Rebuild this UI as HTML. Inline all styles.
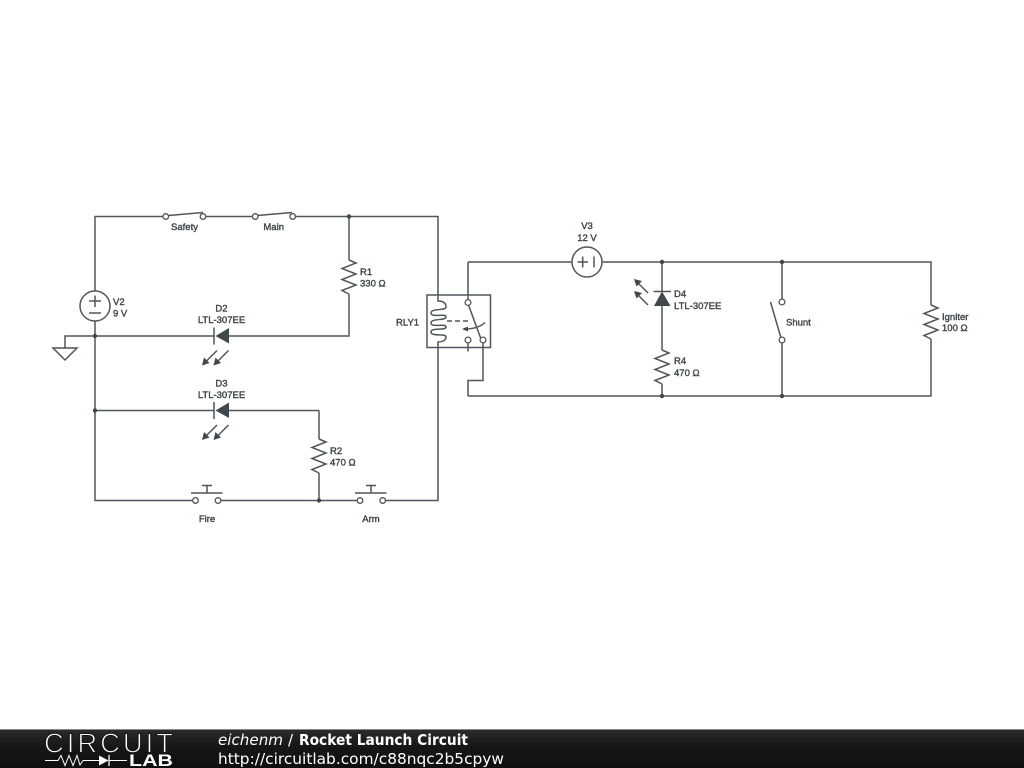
<!DOCTYPE html>
<html><head><meta charset="utf-8"><style>
html,body{margin:0;padding:0;background:#fff;width:1024px;height:768px;overflow:hidden}
svg{display:block}
.w{fill:none;stroke:#4f575b;stroke-width:1.5}
.c{fill:#fff;stroke:#4f575b;stroke-width:1.3}
.k{fill:#3f484c}
.t{font:9.5px "Liberation Sans",sans-serif;fill:#40484c;stroke:#40484c;stroke-width:.4}
.f{font-family:"DejaVu Sans",sans-serif;fill:#fff;font-size:15px}
</style></head><body>
<svg width="1024" height="768" viewBox="0 0 1024 768" xmlns="http://www.w3.org/2000/svg">
<defs>
<linearGradient id="g" x1="0" y1="0" x2="0" y2="1"><stop offset="0" stop-color="#2c2c2c"/><stop offset=".45" stop-color="#171717"/><stop offset="1" stop-color="#0e0e0e"/></linearGradient>
</defs>
<rect width="1024" height="768" fill="#fff"/>
<!-- left wires -->
<path class="w" d="M95 291V216.500H163M206 216.500H252M295 216.500H438V295M95 321V500.500H192.500M221 500.500H357M385.500 500.500H438V347"/>
<path class="w" d="M349 216.500V260M349 294V336H229M214 336H65V348M319 410.500H229M214 410.500H95M319 410.500V439M319 473V500.500"/>
<!-- ground -->
<path class="w" d="M53 348H77L65 360Z"/>
<!-- V2 -->
<circle class="w" cx="95" cy="306" r="15"/>
<path class="w" d="M89 301H101M95 295.500V307M89 313H101" stroke-width="1"/>
<!-- switches -->
<path class="w" d="M168.500 215.500L203 212.500M257.500 215.500L292 212.500"/>
<circle class="c" cx="165.800" cy="216.500" r="2.800"/><circle class="c" cx="203" cy="216.500" r="2.800"/>
<circle class="c" cx="255.200" cy="216.500" r="2.800"/><circle class="c" cx="292.700" cy="216.500" r="2.800"/>
<!-- resistors -->
<path class="w" d="M349 260L356 263L342 268.500L356 274L342 279.500L356 285L342 290.500L349 294"/>
<path class="w" d="M319 439L326 442L312 447.500L326 453L312 458.500L326 464L312 469.500L319 473"/>
<path class="w" d="M662 350L669 353L655 358.500L669 364L655 369.500L669 375L655 380.500L662 384"/>
<path class="w" d="M931 305L938 308L924 313.500L938 319L924 324.500L938 330L924 335.500L931 339"/>
<!-- LEDs -->
<path class="w" d="M214 327.500V344.500M214 402V419"/>
<path class="k" d="M229 328V343.500L215.500 336ZM229 402.500V418L215.500 410.500Z"/>
<path class="w" d="M217 350.500L205 362.500M228.500 350.500L216.500 362.500" stroke-width="1.300"/>
<path class="k" d="M202 365.500L204 357.500L209.500 363ZM213.500 365.500L215.500 357.500L221 363Z"/>
<g transform="translate(0,74.500)">
<path class="w" d="M217 350.500L205 362.500M228.500 350.500L216.500 362.500" stroke-width="1.300"/>
<path class="k" d="M202 365.500L204 357.500L209.500 363ZM213.500 365.500L215.500 357.500L221 363Z"/>
</g>
<!-- push buttons -->
<path class="w" d="M191 493H222.500M207 493V485.500M202 485.500H212M355 493H386.500M371 493V485.500M366 485.500H376"/>
<circle class="c" cx="195.500" cy="500.500" r="2.800"/><circle class="c" cx="218" cy="500.500" r="2.800"/>
<circle class="c" cx="360" cy="500.500" r="2.800"/><circle class="c" cx="382.700" cy="500.500" r="2.800"/>
<!-- relay -->
<rect class="w" x="427" y="295" width="63.500" height="52.500" fill="#fff"/>
<path class="w" d="M438 295V301C443 301 446 303 446 307C446 311 431 308 431 313C431 318 446 313 446 317C446 321 431 318 431 323C431 328 446 323 446 327C446 331 431 327 431 332C431 337 446 333 446 337C446 341 441 342 438 342V347"/>
<path class="w" d="M447 321H471" stroke-dasharray="5 3" stroke-width="1"/>
<path class="w" d="M485 322.500C479 328 472 329 465 329" stroke-width=".9"/>
<path class="k" d="M462 329L468 326.500V331.500Z"/>
<path class="w" d="M468 262V299.500M468 343V351.500M483 343V380.500H468V396"/>
<path class="w" d="M468.500 305L481 339" stroke-width="1.900"/>
<circle class="c" cx="468" cy="302.500" r="2.900"/><circle class="c" cx="468" cy="340" r="2.900"/><circle class="c" cx="483" cy="340" r="2.900"/>
<!-- right wires -->
<path class="w" d="M468 262H572M602 262H931V305M931 339V396H468"/>
<path class="w" d="M662 262V291M662 306V350M662 384V396M782 262V299M782 343V396"/>
<circle class="w" cx="587" cy="262" r="15"/>
<path class="w" d="M577.500 262H588M582.700 256.500V267.500M594 256.500V267.500" stroke-width="1"/>
<!-- D4 -->
<path class="w" d="M653.500 291.500H671"/>
<path class="k" d="M654 306H670.500L662 291.500Z"/>
<path class="w" d="M648 293L637 282M648 305L637 294" stroke-width="1.300"/>
<path class="k" d="M634 279L642 281L636.500 286.500ZM634 291L642 293L636.500 298.500Z"/>
<!-- shunt -->
<path class="w" d="M770.500 302L781 338" stroke-width="1.700"/>
<circle class="c" cx="782" cy="302" r="2.900"/><circle class="c" cx="782" cy="340" r="2.900"/>
<!-- junctions -->
<g fill="#3f484c">
<circle cx="349" cy="216.500" r="2.200"/><circle cx="95" cy="336" r="2.200"/><circle cx="95" cy="410.500" r="2.200"/><circle cx="319" cy="500.500" r="2.200"/>
<circle cx="662" cy="262" r="2.200"/><circle cx="662" cy="396" r="2.200"/><circle cx="782" cy="262" r="2.200"/><circle cx="782" cy="396" r="2.200"/>
</g>
<!-- labels -->
<g class="t">
<text x="184.500" y="230" text-anchor="middle">Safety</text>
<text x="273.700" y="230" text-anchor="middle">Main</text>
<text x="113" y="305">V2</text><text x="113" y="316.500">9 V</text>
<text x="221.500" y="311.500" text-anchor="middle">D2</text>
<text x="221.500" y="323" text-anchor="middle">LTL-307EE</text>
<text x="360" y="275">R1</text><text x="360" y="286.500">330 Ω</text>
<text x="221.500" y="386.500" text-anchor="middle">D3</text>
<text x="221.500" y="398" text-anchor="middle">LTL-307EE</text>
<text x="330" y="454">R2</text><text x="330" y="465.500">470 Ω</text>
<text x="207" y="522" text-anchor="middle">Fire</text>
<text x="371" y="522" text-anchor="middle">Arm</text>
<text x="396" y="325.500">RLY1</text>
<text x="587" y="229" text-anchor="middle">V3</text>
<text x="587" y="241" text-anchor="middle">12 V</text>
<text x="674" y="297">D4</text><text x="674" y="309">LTL-307EE</text>
<text x="674" y="364">R4</text><text x="674" y="376">470 Ω</text>
<text x="786" y="325.500">Shunt</text>
<text x="942" y="320">Igniter</text><text x="942" y="331">100 Ω</text>
</g>
<!-- footer -->
<rect y="729" width="1024" height="39" fill="url(#g)"/>
<rect y="729" width="1024" height="1" fill="#8a8a8a"/>
<text x="44" y="752.500" font-family="Liberation Sans,sans-serif" font-size="27.500" fill="#fff" stroke="#181818" stroke-width="1.100" textLength="129" lengthAdjust="spacing">CIRCUIT</text>
<path d="M45 760.500H58L61 755.500L65 765.500L69 755.500L73 765.500L77 755.500L80 765L83 760.500H99M109 760.500H127" fill="none" stroke="#fff" stroke-width="1"/>
<path d="M99 755.500V765.500L108.500 760.500Z" fill="#fff"/><path d="M109 755V766" stroke="#fff" stroke-width="1.300"/>
<text x="129" y="766" font-family="Liberation Sans,sans-serif" font-weight="bold" font-size="16.500" fill="#fff" textLength="44" lengthAdjust="spacingAndGlyphs">LAB</text>
<text class="f" x="218" y="745" font-style="italic" textLength="65" lengthAdjust="spacingAndGlyphs">eichenm</text>
<text class="f" x="288" y="745">/</text>
<text class="f" x="299" y="745" font-weight="bold" textLength="169" lengthAdjust="spacingAndGlyphs">Rocket Launch Circuit</text>
<text class="f" x="218" y="764" textLength="286" lengthAdjust="spacingAndGlyphs">http://circuitlab.com/c88nqc2b5cpyw</text>
</svg>
</body></html>
